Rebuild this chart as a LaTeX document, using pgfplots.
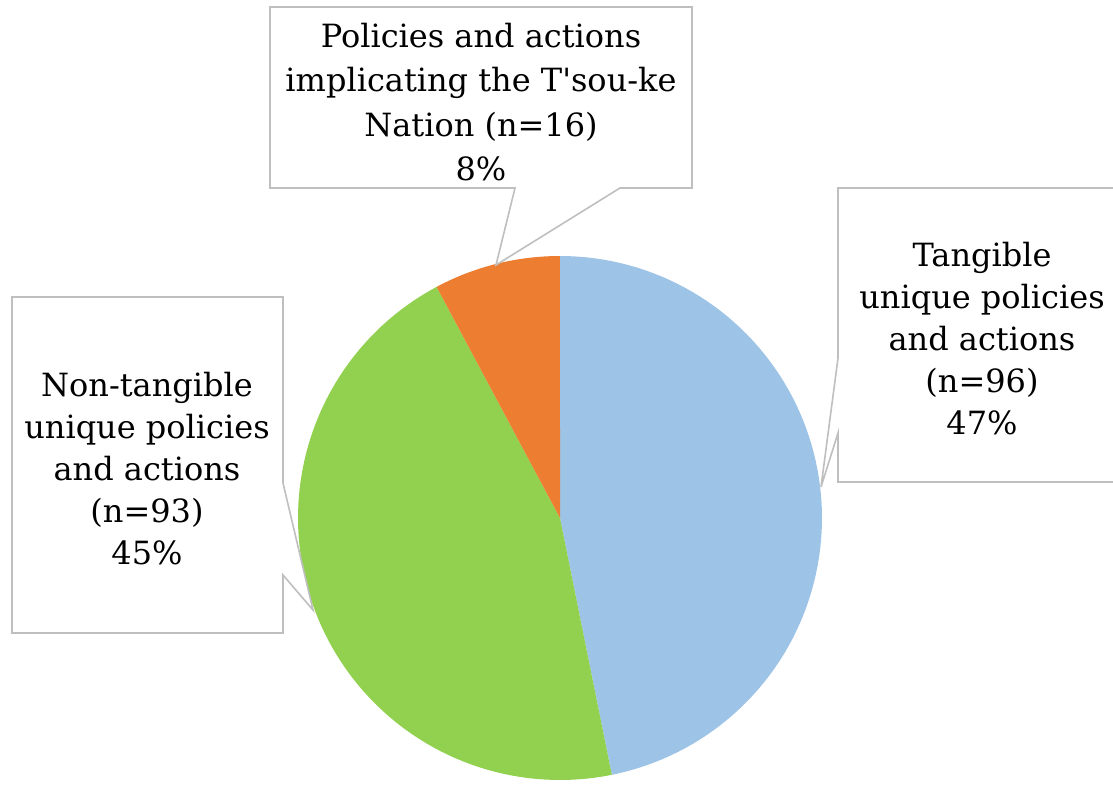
\documentclass[border=0pt]{standalone}
\usepackage{fontspec}
\setmainfont{DejaVu Serif}
\usepackage{pgfplots}
\pgfplotsset{compat=1.18}
\usepackage{pgfplotstable}
\definecolor{cblue}{HTML}{9DC3E6}
\definecolor{cgreen}{HTML}{92D050}
\definecolor{corange}{HTML}{ED7D31}
\definecolor{cgray}{HTML}{BFBFBF}
\pgfplotstableread{
label value
Tangible 96
NonTangible 93
Tsouke 16
}\piedata
\pgfplotstablegetelem{0}{value}\of\piedata \let\va\pgfplotsretval
\pgfplotstablegetelem{1}{value}\of\piedata \let\vb\pgfplotsretval
\pgfplotstablegetelem{2}{value}\of\piedata \let\vc\pgfplotsretval
\pgfmathsetmacro{\tot}{\va+\vb+\vc}
\pgfmathsetmacro{\aA}{90}
\pgfmathsetmacro{\aB}{90-360*(\va/\tot)}
\pgfmathsetmacro{\aC}{\aB-360*(\vb/\tot)}
\pgfmathsetmacro{\aD}{\aC-360*(\vc/\tot)}
\begin{document}%
\begin{tikzpicture}
\begin{axis}[
  width=556.5pt, height=392.5pt, scale only axis,
  xmin=0, xmax=1113, ymin=0, ymax=785, y dir=reverse,
  hide axis, clip=true]
% pie slices (pixel-like coordinates, centre 560,518, radius 262)
\addplot[fill=cblue, draw=none, domain=\aB:\aA, samples=90, variable=\t]
  ({560+262*cos(\t)},{518-262*sin(\t)}) -- (axis cs:560,518) -- cycle;
\addplot[fill=cgreen, draw=none, domain=\aC:\aB, samples=90, variable=\t]
  ({560+262*cos(\t)},{518-262*sin(\t)}) -- (axis cs:560,518) -- cycle;
\addplot[fill=corange, draw=none, domain=\aD:\aC, samples=30, variable=\t]
  ({560+262*cos(\t)},{518-262*sin(\t)}) -- (axis cs:560,518) -- cycle;
% callouts
\draw[cgray, line width=0.8pt, fill=white]
  (axis cs:270,7) -- (axis cs:692,7) -- (axis cs:692,188) -- (axis cs:620,188)
  -- (axis cs:496,265) -- (axis cs:515,188) -- (axis cs:270,188) -- cycle;
\draw[cgray, line width=0.8pt, fill=white]
  (axis cs:838,188) -- (axis cs:1125,188) -- (axis cs:1125,482) -- (axis cs:838,482)
  -- (axis cs:838,433) -- (axis cs:821,487) -- (axis cs:838,358) -- cycle;
\draw[cgray, line width=0.8pt, fill=white]
  (axis cs:12,297) -- (axis cs:283,297) -- (axis cs:283,483) -- (axis cs:313,610)
  -- (axis cs:283,575) -- (axis cs:283,633) -- (axis cs:12,633) -- cycle;
\node[align=center, font=\fontsize{16}{22.3}\selectfont] at (axis cs:481,102)
  {Policies and actions\\implicating the T\textquotesingle sou-ke\\Nation (n=16)\\8\%};
\node[align=center, font=\fontsize{16}{21}\selectfont] at (axis cs:982,339)
  {Tangible\\unique policies\\and actions\\(n=96)\\47\%};
\node[align=center, font=\fontsize{16}{21}\selectfont] at (axis cs:147,469)
  {Non-tangible\\unique policies\\and actions\\(n=93)\\45\%};
\end{axis}
\pgfresetboundingbox
\useasboundingbox (0,0) rectangle (556.5pt,392.5pt);
\end{tikzpicture}%
\end{document}
